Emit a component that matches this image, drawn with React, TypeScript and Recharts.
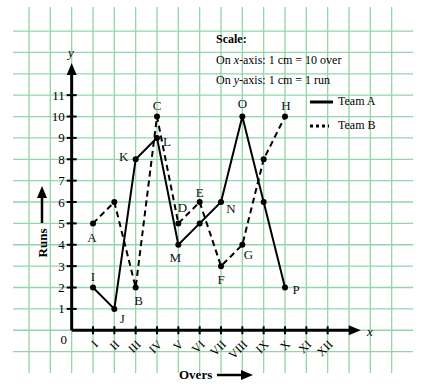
import { LineChart, Line, XAxis, YAxis, ReferenceLine, ReferenceDot } from 'recharts'

// data
const overs = ['I', 'II', 'III', 'IV', 'V', 'VI', 'VII', 'VIII', 'IX', 'X']
const teamA = [2, 1, 8, 9, 4, 5, 6, 10, 6, 2]
const teamB = [5, 6, 2, 10, 5, 6, 3, 4, 8, 10]
const pointNamesA = ['I', 'J', 'K', 'L', 'M', '', 'N', 'O', '', 'P']
const pointNamesB = ['A', '', 'B', 'C', 'D', 'E', 'F', 'G', '', 'H']
const xTickLabels = ['I', 'II', 'III', 'IV', 'V', 'VI', 'VII', 'VIII', 'IX', 'X', 'XI', 'XII']
const yTickLabels = [1, 2, 3, 4, 5, 6, 7, 8, 9, 10, 11]

// label placement (pixel offsets from the point)
const offsetA: [number, number][] = [
  [0, -11], [8, 10], [-12, -3], [10, 4], [-3, 13], [0, 0], [10, 6], [0, -13], [0, 0], [11, 2],
]
const offsetB: [number, number][] = [
  [-1, 14], [0, 0], [3, 13], [0, -11], [4, -16], [0, -10], [0, 13], [6, 10], [0, 0], [1, -11],
]

const gridX = Array.from({ length: 18 }, (_, i) => i - 2)
const gridY = Array.from({ length: 16 }, (_, i) => i - 1)

const data = overs.map((o, i) => ({ x: i + 1, over: o, a: teamA[i], b: teamB[i] }))

const GRID = '#93d5a8'
const FONT = '"Liberation Serif", "Times New Roman", serif'

function pointLabel(names: string[], offsets: [number, number][]) {
  return (p: any) => {
    const name = names[p.index]
    if (!name) return <g />
    const [dx, dy] = offsets[p.index]
    return (
      <text
        x={p.x + dx}
        y={p.y + dy}
        textAnchor="middle"
        dominantBaseline="central"
        fontSize={13}
        fontFamily={FONT}
        fill="#111"
      >
        {name}
      </text>
    )
  }
}

export default function App() {
  return (
    <div style={{ position: 'absolute', left: 0, top: 0, width: 431, height: 387, background: '#fff', fontFamily: FONT }}>
      <LineChart
        width={431}
        height={387}
        data={data}
        margin={{ top: 7, right: 18, bottom: 14, left: 13 }}
      >
        <XAxis type="number" dataKey="x" domain={[-2.75, 16]} allowDataOverflow hide />
        <YAxis type="number" domain={[-2, 15.125]} allowDataOverflow hide />

        {gridX.map((v) => (
          <ReferenceLine key={'gx' + v} x={v} stroke={GRID} strokeWidth={1.3} />
        ))}
        {gridY.map((v) => (
          <ReferenceLine key={'gy' + v} y={v} stroke={GRID} strokeWidth={1.3} />
        ))}

        {/* x axis with arrow */}
        <ReferenceLine
          segment={[{ x: 0, y: 0 }, { x: 13.55, y: 0 }]}
          shape={(p: any) => (
            <g>
              <line x1={p.x1} y1={p.y1} x2={p.x2 - 8} y2={p.y2} stroke="#000" strokeWidth={3} />
              <polygon
                points={`${p.x2},${p.y2} ${p.x2 - 12},${p.y2 - 5} ${p.x2 - 12},${p.y2 + 5}`}
                fill="#000"
              />
            </g>
          )}
        />
        {/* y axis with arrow */}
        <ReferenceLine
          segment={[{ x: 0, y: 0 }, { x: 0, y: 12.5 }]}
          shape={(p: any) => (
            <g>
              <line x1={p.x1} y1={p.y1} x2={p.x2} y2={p.y2 + 8} stroke="#000" strokeWidth={3} />
              <polygon
                points={`${p.x2},${p.y2} ${p.x2 - 5},${p.y2 + 12} ${p.x2 + 5},${p.y2 + 12}`}
                fill="#000"
              />
            </g>
          )}
        />

        {xTickLabels.map((t, i) => (
          <ReferenceDot
            key={'xt' + t}
            x={i + 1}
            y={0}
            r={0}
            shape={(p: any) => (
              <g>
                <line x1={p.cx} y1={p.cy - 4} x2={p.cx} y2={p.cy + 4} stroke="#000" strokeWidth={2} />
                <text
                  x={p.cx + 3}
                  y={p.cy + 12}
                  textAnchor="end"
                  dominantBaseline="central"
                  fontSize={12}
                  fontFamily={FONT}
                  transform={`rotate(-45, ${p.cx + 3}, ${p.cy + 12})`}
                >
                  {t}
                </text>
              </g>
            )}
          />
        ))}
        {yTickLabels.map((t) => (
          <ReferenceDot
            key={'yt' + t}
            x={0}
            y={t}
            r={0}
            shape={(p: any) => (
              <g>
                <line x1={p.cx - 5} y1={p.cy} x2={p.cx + 5} y2={p.cy} stroke="#000" strokeWidth={2} />
                <text
                  x={p.cx - 7}
                  y={p.cy}
                  textAnchor="end"
                  dominantBaseline="central"
                  fontSize={13}
                  fontFamily={FONT}
                >
                  {t}
                </text>
              </g>
            )}
          />
        ))}
        <ReferenceDot
          x={0}
          y={0}
          r={0}
          shape={(p: any) => (
            <g fontFamily={FONT}>
              <text x={p.cx - 8} y={p.cy + 9} textAnchor="middle" dominantBaseline="central" fontSize={13}>
                0
              </text>
            </g>
          )}
        />

        <Line
          dataKey="a"
          type="linear"
          stroke="#000"
          strokeWidth={2}
          dot={{ r: 3, fill: '#000', stroke: '#000', strokeWidth: 0 }}
          label={pointLabel(pointNamesA, offsetA)}
          isAnimationActive={false}
        />
        <Line
          dataKey="b"
          type="linear"
          stroke="#000"
          strokeWidth={2}
          strokeDasharray="6 4"
          dot={{ r: 3, fill: '#000', stroke: '#000', strokeWidth: 0, strokeDasharray: '0' }}
          label={pointLabel(pointNamesB, offsetB)}
          isAnimationActive={false}
        />
      </LineChart>

      {/* axis names, scale note and legend */}
      <svg width={431} height={387} style={{ position: 'absolute', left: 0, top: 0, pointerEvents: 'none' }}>
        <g fontFamily={FONT} fill="#000">
          <text x={71} y={52} fontSize={13} fontStyle="italic" textAnchor="middle" dominantBaseline="central">y</text>
          <text x={370} y={331} fontSize={13} fontStyle="italic" textAnchor="middle" dominantBaseline="central">x</text>

          <text
            x={42}
            y={243}
            fontSize={13}
            fontWeight="bold"
            textAnchor="middle"
            dominantBaseline="central"
            transform="rotate(-90, 42, 243)"
          >
            Runs
          </text>
          <line x1={42} y1={223} x2={42} y2={196} stroke="#000" strokeWidth={2.5} />
          <polygon points="42,186 37,198 47,198" />

          <text x={179} y={374} fontSize={13} fontWeight="bold" dominantBaseline="central">Overs</text>
          <line x1={217} y1={375} x2={243} y2={375} stroke="#000" strokeWidth={2.5} />
          <polygon points="253,375 241,370 241,380" />

          <text x={216} y={39} fontSize={12} fontWeight="bold" dominantBaseline="central">Scale:</text>
          <text x={216} y={60} fontSize={12} dominantBaseline="central">
            On <tspan fontStyle="italic">x</tspan>-axis: 1 cm = 10 over
          </text>
          <text x={216} y={80} fontSize={12} dominantBaseline="central">
            On <tspan fontStyle="italic">y</tspan>-axis: 1 cm = 1 run
          </text>

          <line x1={310} y1={102} x2={333} y2={102} stroke="#000" strokeWidth={3} />
          <text x={338} y={101} fontSize={12} dominantBaseline="central">Team A</text>
          <line x1={310} y1={126} x2={329} y2={126} stroke="#000" strokeWidth={3} strokeDasharray="3 3" />
          <text x={338} y={125} fontSize={12} dominantBaseline="central">Team B</text>
        </g>
      </svg>
    </div>
  )
}
